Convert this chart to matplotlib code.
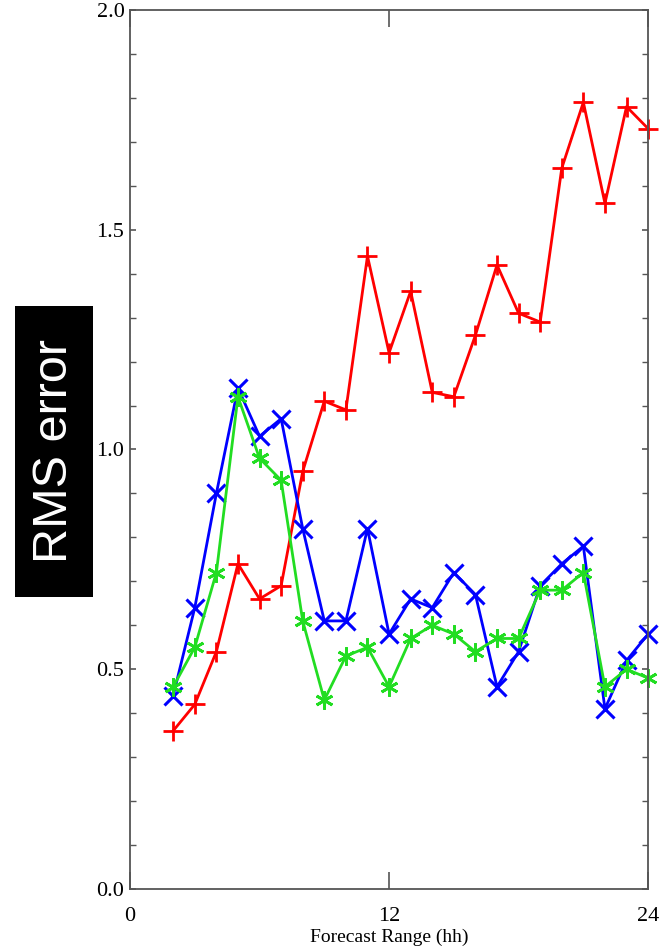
import numpy as np
import matplotlib
matplotlib.use('Agg')
import matplotlib.pyplot as plt
from matplotlib.ticker import MultipleLocator
from matplotlib.patches import Rectangle

# forecast hours
hours = list(range(2, 25))

# RMS error, three runs
red_vals = [0.36, 0.42, 0.54, 0.74, 0.66, 0.69, 0.95, 1.11, 1.09, 1.44, 1.22, 1.36,
            1.13, 1.12, 1.26, 1.42, 1.31, 1.29, 1.64, 1.79, 1.56, 1.78, 1.73]
blue_vals = [0.44, 0.64, 0.90, 1.14, 1.03, 1.07, 0.82, 0.61, 0.61, 0.82, 0.58, 0.66,
             0.64, 0.72, 0.67, 0.46, 0.54, 0.69, 0.74, 0.78, 0.41, 0.52, 0.58]
green_vals = [0.46, 0.55, 0.72, 1.12, 0.98, 0.93, 0.61, 0.43, 0.53, 0.55, 0.46, 0.57,
              0.60, 0.58, 0.54, 0.57, 0.57, 0.68, 0.68, 0.72, 0.46, 0.50, 0.48]

xticks = [0, 12, 24]
yticks = [0.0, 0.5, 1.0, 1.5, 2.0]

fig = plt.figure(figsize=(6.6, 9.49), dpi=100)
ax = fig.add_axes([0.197, 0.0632, 0.785, 0.9263])

ax.plot(hours, red_vals, color='#ff0000', lw=2, marker='+', ms=14, mew=2, clip_on=False)
ax.plot(hours, blue_vals, color='#0000ff', lw=2, marker='x', ms=13, mew=2.2, clip_on=False)
ax.plot(hours, green_vals, color='#22dd22', lw=2, marker=(6, 2, 0), ms=13, mew=2, clip_on=False)

ax.set_xlim(0, 24)
ax.set_ylim(0, 2.0)
ax.set_xticks(xticks)
ax.set_yticks(yticks)
ax.yaxis.set_minor_locator(MultipleLocator(0.1))
ax.set_xticklabels([str(t) for t in xticks], family='Liberation Serif', fontsize=16)
ax.set_yticklabels(['%.1f' % t for t in yticks], family='Liberation Serif', fontsize=16)
ax.tick_params(which='both', direction='in', top=True, right=True, color='#555555')
ax.tick_params(which='major', length=12, width=1.2)
ax.tick_params(which='minor', length=4, width=1)
ax.tick_params(axis='y', which='major', length=4, pad=4)
ax.tick_params(axis='x', which='major', pad=13)
for s in ax.spines.values():
    s.set_color('#555555')
    s.set_linewidth(1.3)

ax.set_xlabel('Forecast Range (hh)', family='Liberation Serif', fontsize=14, labelpad=2)

# black box behind the y label
fig.patches.append(Rectangle((15 / 660, 1 - 597 / 949), 78 / 660, 291 / 949,
                             transform=fig.transFigure, facecolor='black',
                             edgecolor='none', zorder=0))
fig.text(0.082, 0.525, 'RMS error', rotation=90, ha='center', va='center',
         color='white', fontsize=35, family='Liberation Sans')

fig.savefig('out.png', dpi=100)
